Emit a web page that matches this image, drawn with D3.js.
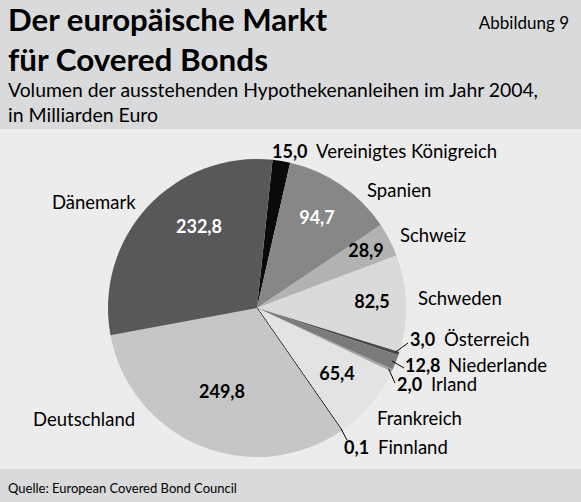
<!DOCTYPE html>
<html>
<head>
<meta charset="utf-8">
<script src="https://cdn.jsdelivr.net/npm/d3@7"></script>
<style>
  body { margin: 0; }
  svg { display: block; font-family: Lato, "Open Sans", sans-serif; }
</style>
</head>
<body>
<svg id="chart"></svg>
<script>
// Data: outstanding mortgage covered bonds 2004, bn EUR (clockwise from top)
const countries = ['Vereinigtes Königreich', 'Spanien', 'Schweiz', 'Schweden', 'Österreich',
  'Niederlande', 'Irland', 'Frankreich', 'Finnland', 'Deutschland', 'Dänemark'];
const volumes = [15.0, 94.7, 28.9, 82.5, 3.0, 12.8, 2.0, 65.4, 0.1, 249.8, 232.8];
const shades = ['#0a0a0a', '#878787', '#b2b2b2', '#dadadb', '#4a4a4a',
  '#7b7b7b', '#a2a2a2', '#e3e3e4', '#000000', '#c6c6c7', '#58585a'];

// Which values sit inside the slice (and in which colour), which go outside
const insideValue = { 'Spanien': '#fff', 'Schweiz': '#000', 'Schweden': '#000',
  'Frankreich': '#000', 'Deutschland': '#000', 'Dänemark': '#fff' };

// Label layout (annotation positions)
const insidePos = {
  'Spanien': [317, 224], 'Schweiz': [366, 257], 'Schweden': [372, 308],
  'Frankreich': [337, 380], 'Deutschland': [222, 398], 'Dänemark': [199, 233]
};
const namePos = {
  'Vereinigtes Königreich': [316, 158], 'Spanien': [367, 197], 'Schweiz': [400, 242],
  'Schweden': [418, 305], 'Österreich': [444, 346], 'Niederlande': [448, 372],
  'Irland': [431, 391], 'Frankreich': [377, 425], 'Finnland': [378, 454],
  'Deutschland': [33, 426], 'Dänemark': [52, 209]
};
const outsideValueX = { 'Vereinigtes Königreich': 272, 'Österreich': 410,
  'Niederlande': 405, 'Irland': 397, 'Finnland': 344 };
const leaderEnd = { 'Österreich': [408, 343], 'Niederlande': [404, 368],
  'Irland': [395, 383], 'Finnland': [347, 440] };

const W = 581, H = 502;
const cx = 257, cy = 308, radius = 149;

const de = d3.formatLocale({ decimal: ',', thousands: '.', grouping: [3], currency: ['', ' €'] });
const fmt = de.format('.1f');

const svg = d3.select('#chart').attr('width', W).attr('height', H);

// Backgrounds
svg.append('rect').attr('width', W).attr('height', H).attr('fill', '#ececec');
svg.append('rect').attr('width', W).attr('height', 129).attr('fill', '#d9dadb');
svg.append('rect').attr('y', 469).attr('width', W).attr('height', H - 469).attr('fill', '#d9dadb');

// Header
svg.append('text').attr('x', 8).attr('y', 31)
  .attr('font-size', 31).attr('font-weight', 700)
  .attr('textLength', 319).attr('lengthAdjust', 'spacingAndGlyphs')
  .text('Der europäische Markt');
svg.append('text').attr('x', 8).attr('y', 71)
  .attr('font-size', 31).attr('font-weight', 700)
  .attr('textLength', 260).attr('lengthAdjust', 'spacingAndGlyphs')
  .text('für Covered Bonds');
svg.append('text').attr('x', 569).attr('y', 29).attr('text-anchor', 'end')
  .attr('font-size', 17).text('Abbildung 9');
svg.append('text').attr('x', 8).attr('y', 97)
  .attr('font-size', 19.5)
  .attr('textLength', 530).attr('lengthAdjust', 'spacingAndGlyphs')
  .text('Volumen der ausstehenden Hypothekenanleihen im Jahr 2004,');
svg.append('text').attr('x', 8).attr('y', 122)
  .attr('font-size', 19.5).text('in Milliarden Euro');

// Footer
svg.append('text').attr('x', 8).attr('y', 493)
  .attr('font-size', 13).text('Quelle: European Covered Bond Council');

// Pie
const data = countries.map((c, i) => ({ name: c, value: volumes[i], color: shades[i] }));
const start = 6 * Math.PI / 180;
const pie = d3.pie().sort(null).value(d => d.value)
  .startAngle(start).endAngle(start + 2 * Math.PI);
const arcs = pie(data);
const arc = d3.arc().innerRadius(0).outerRadius(radius);

const g = svg.append('g').attr('transform', `translate(${cx},${cy})`);
g.selectAll('path.slice')
  .data(arcs)
  .enter()
  .append('path')
  .attr('class', 'slice')
  .attr('d', arc)
  .attr('fill', d => d.data.color)
  .attr('stroke', d => d.data.name === 'Finnland' ? '#000' : 'none')
  .attr('stroke-width', 1);

// Leader lines
const edgePoint = (d, r) => {
  const a = (d.startAngle + d.endAngle) / 2;
  return [cx + r * Math.sin(a), cy - r * Math.cos(a)];
};
arcs.filter(d => leaderEnd[d.data.name]).forEach(d => {
  const p0 = edgePoint(d, d.data.name === 'Finnland' ? radius - 1 : radius - 4);
  const p1 = leaderEnd[d.data.name];
  svg.append('line')
    .attr('x1', p0[0]).attr('y1', p0[1]).attr('x2', p1[0]).attr('y2', p1[1])
    .attr('stroke', '#000').attr('stroke-width', 1);
});

// Values inside slices
svg.selectAll('text.inside')
  .data(arcs.filter(d => insideValue[d.data.name]))
  .enter()
  .append('text')
  .attr('class', 'inside')
  .attr('x', d => insidePos[d.data.name][0])
  .attr('y', d => insidePos[d.data.name][1])
  .attr('text-anchor', 'middle')
  .attr('font-size', 18).attr('font-weight', 700)
  .attr('fill', d => insideValue[d.data.name])
  .text(d => fmt(d.data.value));

// Country names
svg.selectAll('text.name')
  .data(arcs)
  .enter()
  .append('text')
  .attr('class', 'name')
  .attr('x', d => namePos[d.data.name][0])
  .attr('y', d => namePos[d.data.name][1])
  .attr('font-size', 18.5)
  .text(d => d.data.name);

// Values outside slices
svg.selectAll('text.outside')
  .data(arcs.filter(d => outsideValueX[d.data.name] !== undefined))
  .enter()
  .append('text')
  .attr('class', 'outside')
  .attr('x', d => outsideValueX[d.data.name])
  .attr('y', d => namePos[d.data.name][1])
  .attr('font-size', 18).attr('font-weight', 700)
  .text(d => fmt(d.data.value));
</script>
</body>
</html>
